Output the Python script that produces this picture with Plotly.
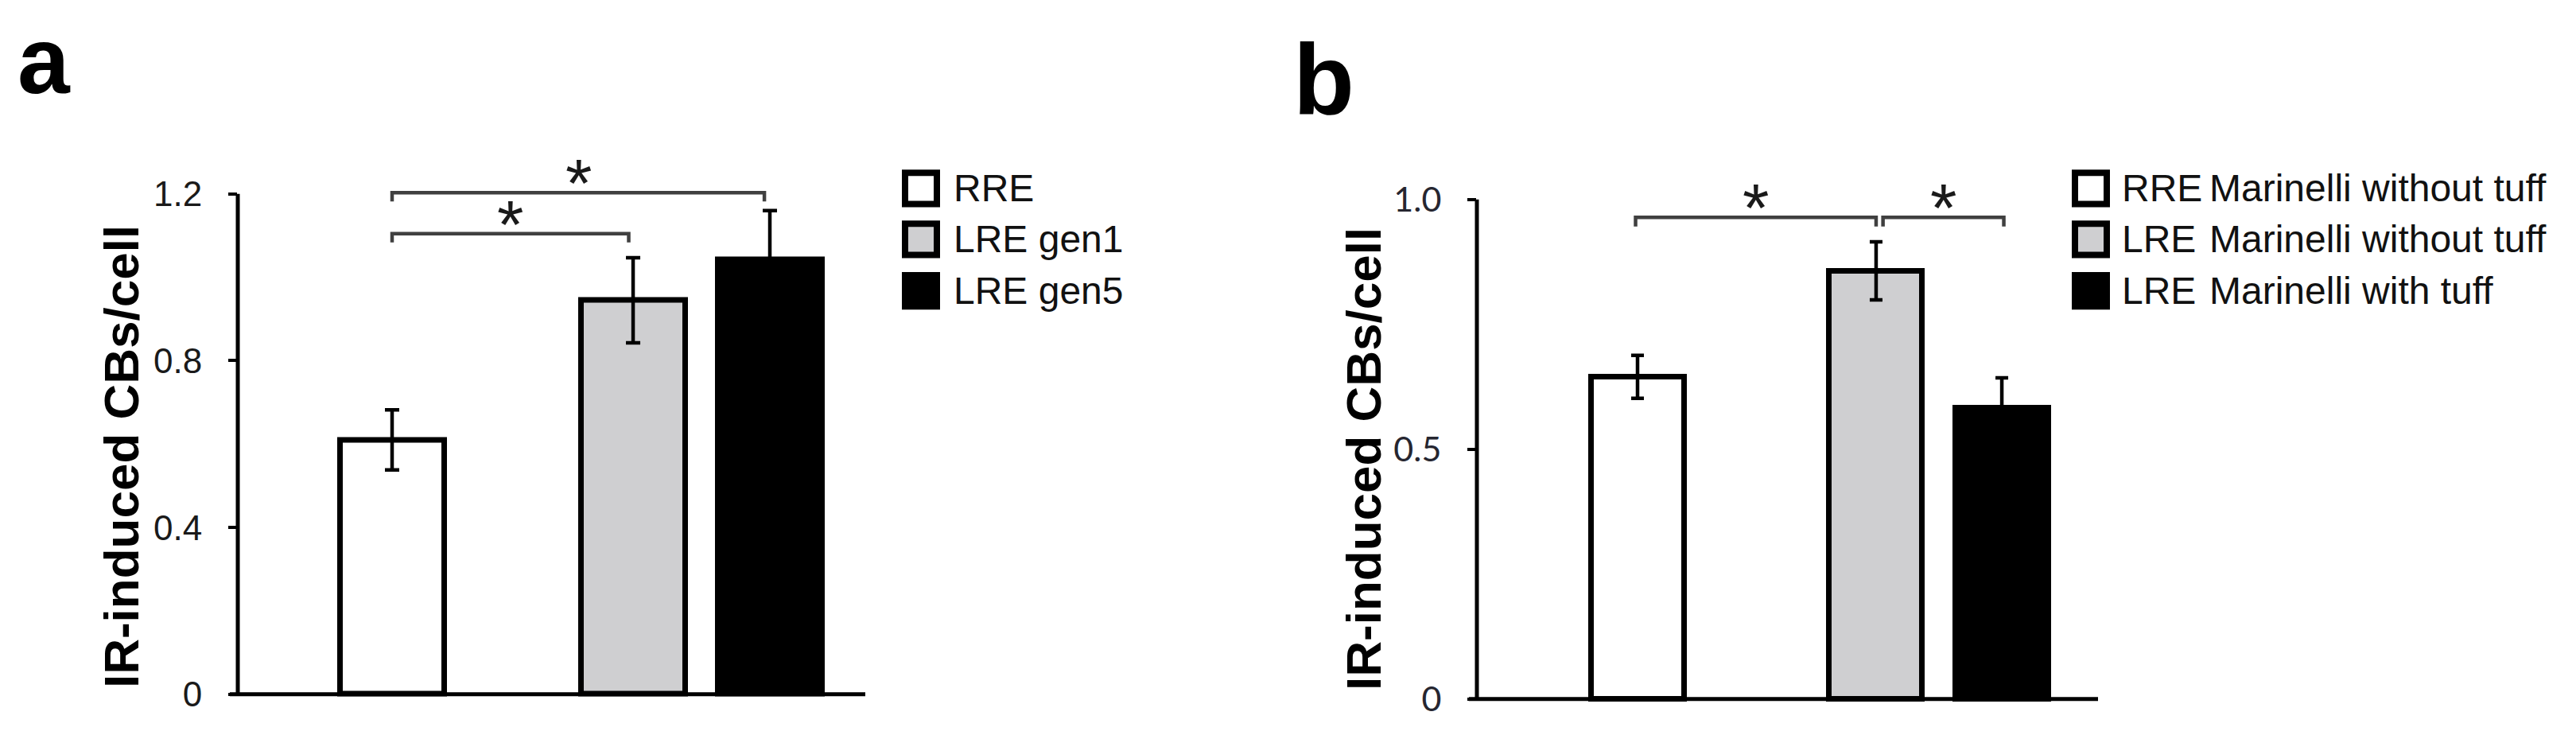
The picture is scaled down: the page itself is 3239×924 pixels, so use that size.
import plotly.graph_objects as go

# ---------------- data ----------------
a_names = ["RRE", "LRE gen1", "LRE gen5"]
a_means = [0.61, 0.945, 1.043]
a_errs = [0.072, 0.102, 0.117]
a_ticks = [0, 0.4, 0.8, 1.2]
a_ticktext = ["0", "0.4", "0.8", "1.2"]

b_groups = ["RRE", "LRE", "LRE"]
b_conds = ["Marinelli without tuff", "Marinelli without tuff", "Marinelli with tuff"]
b_names = [g + " " + c for g, c in zip(b_groups, b_conds)]
b_means = [0.645, 0.857, 0.583]
b_errs = [0.043, 0.058, 0.06]
b_ticks = [0, 0.5, 1.0]
b_ticktext = ["0", "0.5", "1.0"]

y_title = "IR-induced CBs/cell"
colors = ["#ffffff", "#cfcfd1", "#000000"]

# significance brackets: (from bar index, to bar index)
a_sig = [(0, 1), (0, 2)]
b_sig = [(0, 1), (1, 2)]

# ---------------- layout constants (pixels) ----------------
W, H = 3239, 924

A = dict(axl=291, axr=1080, xstart=281, y0=880, ytop=240, ytopv=1.2, ymax=1.3,
         origin=485, unit=138, pos=[0, 2.196, 3.442], lw=7,
         br=[(0.0, -0.04, 1.105), (0.0, -0.05, 1.203)], brtick=0.021,
         capw=9)
B = dict(axl=1849, axr=2630, xstart=1839, y0=886, ytop=247, ytopv=1.0, ymax=1.1,
         origin=2051, unit=124, pos=[0, 2.419, 3.694], lw=7,
         br=[(-0.02, 0.0, 0.964), (0.07, 0.02, 0.964)], brtick=0.018,
         capw=8)

fig = go.Figure()
shapes = []
annotations = []


def panel(P, names, means, errs, ticks, ticktext, sig, xa, ya, tickfont, standoff):
    ppu = (P["y0"] - P["ytop"]) / P["ytopv"]  # pixels per y unit
    ymin = -0.015
    bot_px = P["y0"] - ymin * ppu
    top_px = P["y0"] - P["ymax"] * ppu
    xr = [(P["axl"] - P["origin"]) / P["unit"], (P["axr"] - P["origin"]) / P["unit"]]
    bw = (P["unit"] - P["lw"]) / P["unit"]
    for i, (n, m, e) in enumerate(zip(names, means, errs)):
        fig.add_trace(go.Bar(
            x=[P["pos"][i]], y=[m], name=n, width=bw,
            marker=dict(color=colors[i], line=dict(color="#000000", width=P["lw"])),
            error_y=dict(type="data", array=[e], visible=True, color="#000000",
                         thickness=4.5, width=P["capw"]),
            xaxis=xa, yaxis=ya, showlegend=False))
    xkey = "xaxis" + xa[1:]
    ykey = "yaxis" + ya[1:]
    fig.layout[xkey] = dict(domain=[P["axl"] / W, P["axr"] / W], range=xr,
                            showgrid=False, zeroline=False, showline=False,
                            showticklabels=False, ticks="", anchor=ya, fixedrange=True)
    fig.layout[ykey] = dict(domain=[(H - bot_px) / H, (H - top_px) / H],
                            range=[ymin, P["ymax"]], anchor=xa,
                            showgrid=False, zeroline=False, showline=False,
                            tickmode="array", tickvals=ticks, ticktext=ticktext,
                            ticks="outside", ticklen=P["axl"] - P["xstart"] + 1,
                            tickwidth=4, tickcolor="#000000",
                            ticklabelstandoff=standoff, tickfont=tickfont)
    # axis lines
    shapes.append(dict(type="line", xref="paper", yref=ya, x0=P["axl"] / W, x1=P["axl"] / W,
                       y0=0, y1=P["ytopv"], line=dict(color="#000000", width=5)))
    shapes.append(dict(type="line", xref="paper", yref=ya, x0=P["xstart"] / W, x1=P["axr"] / W,
                       y0=0, y1=0, line=dict(color="#000000", width=5)))
    # brackets + stars
    for (i, j), (d0, d1, yb) in zip(sig, P["br"]):
        x0 = P["pos"][i] + d0
        x1 = P["pos"][j] + d1
        yl = yb - P["brtick"]
        shapes.append(dict(type="path", xref=xa, yref=ya,
                           path=f"M {x0},{yl} L {x0},{yb} L {x1},{yb} L {x1},{yl}",
                           line=dict(color="#404040", width=4.5)))
        annotations.append(dict(x=(x0 + x1) / 2, y=yb, xref=xa, yref=ya, text="*",
                                showarrow=False, xanchor="center", yanchor="bottom",
                                yshift=-38,
                                font=dict(family="Liberation Sans", size=86, color="#1a1a1a")))


panel(A, a_names, a_means, a_errs, a_ticks, a_ticktext, a_sig, "x", "y",
      dict(family="Liberation Sans", size=44, color="#1a1a1a"), 24)
panel(B, b_names, b_means, b_errs, b_ticks, b_ticktext, b_sig, "x2", "y2",
      dict(family="Lato", size=43, color="#262630"), 24)

# y titles
for cx, cy in [(144, 576), (1707, 579)]:
    annotations.append(dict(x=cx / W, y=1 - cy / H, xref="paper", yref="paper", text=y_title,
                            textangle=-90, showarrow=False, xanchor="center", yanchor="middle",
                            font=dict(family="Liberation Sans", size=62, color="#000000",
                                      weight="bold")))

# panel labels
for lbl, lx, ly, fs in [("a", 12, 0, 118), ("b", 1616, 20, 126)]:
    annotations.append(dict(x=lx / W, y=1 - ly / H, xref="paper", yref="paper", text=lbl,
                            showarrow=False, xanchor="left", yanchor="top",
                            font=dict(family="Liberation Sans", size=fs, color="#000000",
                                      weight="bold")))

# legends (drawn manually)
rows = [233, 298, 364]
sq = 48
lf = dict(family="Liberation Sans", size=48, color="#111111")


def legend_boxes(x_left, n):
    for i in range(n):
        cy = rows[i]
        shapes.append(dict(type="rect", xref="paper", yref="paper",
                           x0=(x_left + 4) / W, x1=(x_left + sq - 4) / W,
                           y0=1 - (cy + sq / 2 - 4) / H, y1=1 - (cy - sq / 2 + 4) / H,
                           fillcolor=colors[i], line=dict(color="#000000", width=8)))


legend_boxes(1126, len(a_names))
for i, n in enumerate(a_names):
    annotations.append(dict(x=1189 / W, y=1 - rows[i] / H, xref="paper", yref="paper", text=n,
                            showarrow=False, xanchor="left", yanchor="middle", font=lf))

legend_boxes(2597, len(b_names))
for i in range(len(b_names)):
    annotations.append(dict(x=2658 / W, y=1 - rows[i] / H, xref="paper", yref="paper",
                            text=b_groups[i], showarrow=False, xanchor="left",
                            yanchor="middle", font=lf))
    annotations.append(dict(x=2768 / W, y=1 - rows[i] / H, xref="paper", yref="paper",
                            text=b_conds[i], showarrow=False, xanchor="left",
                            yanchor="middle", font=lf))

fig.update_layout(width=W, height=H, margin=dict(l=0, r=0, t=0, b=0),
                  paper_bgcolor="#ffffff", plot_bgcolor="#ffffff",
                  shapes=shapes, annotations=annotations, showlegend=False,
                  bargap=0)

fig.write_html("out.html")
